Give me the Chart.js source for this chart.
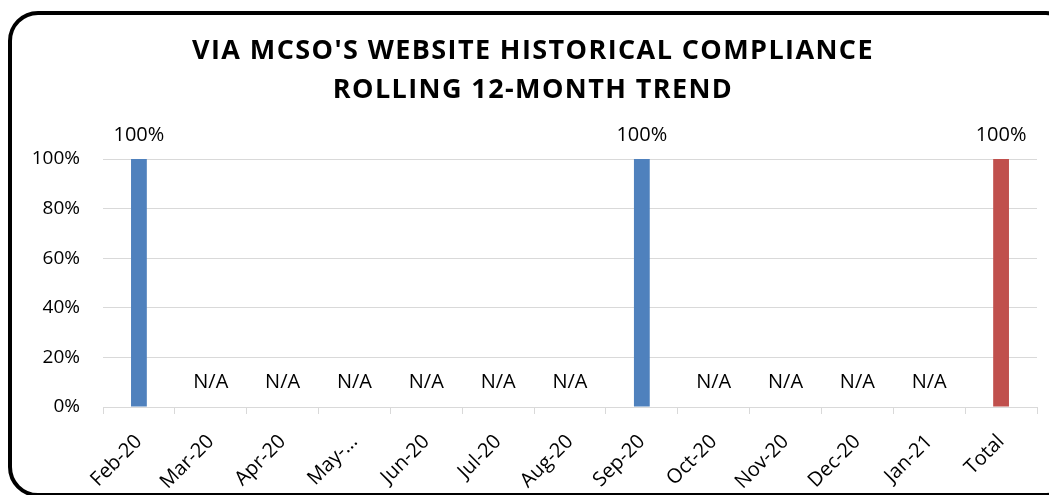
<!DOCTYPE html>
<html>
<head>
<meta charset="utf-8">
<script src="https://cdn.jsdelivr.net/npm/chart.js@4.4.1/dist/chart.umd.min.js"></script>
<style>
  body { margin: 0; width: 1049px; height: 495px; overflow: hidden; background: #fff; }
  .card { position: absolute; left: 8px; top: 11px; width: 1060px; height: 478px;
          border: 4px solid #000; border-radius: 30px; }
  .wrap { position: absolute; left: 0; top: 0; width: 1049px; height: 495px; }
</style>
</head>
<body>
<div class="card"></div>
<div class="wrap"><canvas id="complianceChart" width="1049" height="495"></canvas></div>
<script>
// Dados do gráfico
const meses = ['Feb-20', 'Mar-20', 'Apr-20', 'May-...', 'Jun-20', 'Jul-20', 'Aug-20',
               'Sep-20', 'Oct-20', 'Nov-20', 'Dec-20', 'Jan-21', 'Total'];
const conformidade = [100, null, null, null, null, null, null, 100, null, null, null, null, 100];
const rotulos = ['100%', 'N/A', 'N/A', 'N/A', 'N/A', 'N/A', 'N/A', '100%', 'N/A', 'N/A', 'N/A', 'N/A', '100%'];
const yTicks = [0, 20, 40, 60, 80, 100];
const tituloLinhas = ["VIA MCSO'S WEBSITE HISTORICAL COMPLIANCE", 'ROLLING 12-MONTH TREND'];

const corBarras = meses.map(m => m === 'Total' ? '#C0504D' : '#4F81BD');

// Plugin simples para desenhar os rótulos (100% / N/A)
const rotulosPlugin = {
    id: 'rotulos',
    afterDatasetsDraw(chart) {
        const ctx = chart.ctx;
        const meta = chart.getDatasetMeta(0);
        const y = chart.scales.y;
        ctx.save();
        ctx.font = '20px "Open Sans"';
        ctx.fillStyle = '#000';
        ctx.textAlign = 'center';
        ctx.textBaseline = 'middle';
        meta.data.forEach((bar, i) => {
            const v = conformidade[i];
            const py = v === null ? y.getPixelForValue(10) : y.getPixelForValue(v) - 24;
            ctx.fillText(rotulos[i], bar.x, py);
        });
        ctx.restore();
    }
};

// Título com espaçamento entre letras
const tituloPlugin = {
    id: 'tituloCustom',
    afterDraw(chart) {
        const ctx = chart.ctx;
        ctx.save();
        ctx.font = 'bold 27px "Open Sans"';
        ctx.fillStyle = '#000';
        ctx.textAlign = 'center';
        ctx.textBaseline = 'middle';
        ctx.letterSpacing = '1.4px';
        ctx.fillText(tituloLinhas[0], 533, 51);
        ctx.fillText(tituloLinhas[1], 533, 90);
        ctx.restore();
    }
};

const ctx = document.getElementById('complianceChart').getContext('2d');
const chart = new Chart(ctx, {
    type: 'bar',
    data: {
        labels: meses,
        datasets: [{
            data: conformidade,
            backgroundColor: corBarras,
            barPercentage: 0.22,
            categoryPercentage: 1
        }]
    },
    options: {
        responsive: false,
        animation: false,
        layout: { padding: { top: 159, right: 12, left: 0, bottom: 0 } },
        plugins: {
            legend: { display: false },
            tooltip: { enabled: false },
            title: { display: false }
        },
        scales: {
            y: {
                min: 0,
                max: 100,
                afterFit: s => { s.width = 103; },
                afterBuildTicks: s => { s.ticks = yTicks.map(v => ({ value: v })); },
                ticks: {
                    padding: 23,
                    color: '#000',
                    font: { family: 'Open Sans', size: 19 },
                    callback: v => v + '%'
                },
                grid: { color: '#d9d9d9', drawTicks: false },
                border: { display: false }
            },
            x: {
                afterFit: s => { s.height = 88; },
                ticks: {
                    minRotation: 45,
                    maxRotation: 45,
                    color: '#000',
                    padding: 16,
                    font: { family: 'Open Sans', size: 20 }
                },
                grid: { drawOnChartArea: false, drawTicks: true, tickLength: 7, color: '#d9d9d9', offset: true },
                border: { display: true, color: '#d9d9d9' }
            }
        }
    },
    plugins: [rotulosPlugin, tituloPlugin]
});
</script>
</body>
</html>
